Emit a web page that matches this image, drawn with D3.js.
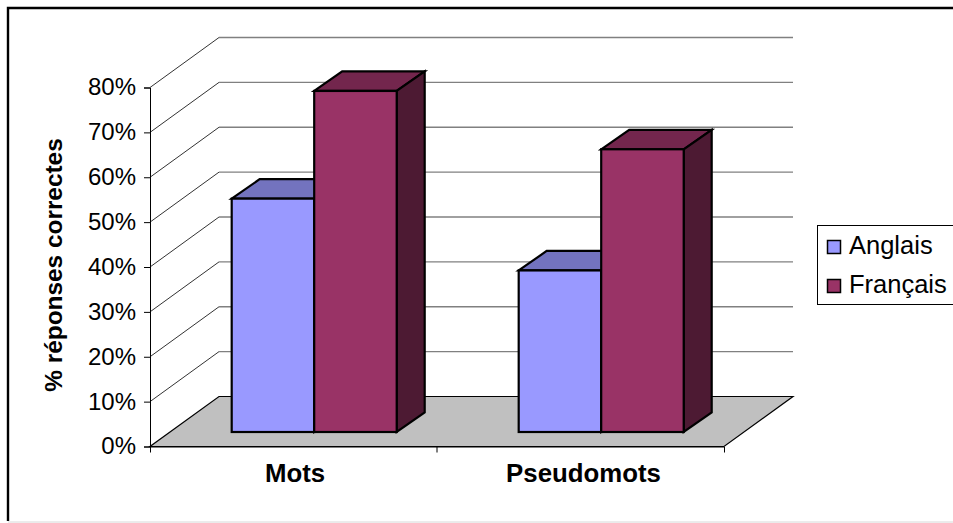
<!DOCTYPE html>
<html><head><meta charset="utf-8">
<style>html,body{margin:0;padding:0;background:#fff}svg{display:block}text{font-family:"Liberation Sans",Arial,sans-serif;fill:#000}</style>
<script src="https://cdn.jsdelivr.net/npm/d3@7/dist/d3.min.js"></script>
</head><body><div id="chart"></div>
<script>
const categories = ["Mots", "Pseudomots"];
const seriesNames = ["Anglais", "Français"];
const anglais = [0.52, 0.36];
const francais = [0.76, 0.63];
const yTicks = [0, 0.1, 0.2, 0.3, 0.4, 0.5, 0.6, 0.7, 0.8];
const yTitle = "% réponses correctes";
const frontColors = ["#9999ff", "#993366"];
const topColors = ["#7373bf", "#73264d"];
const sideColors = ["#4d4d80", "#4d1a33"];

const W = 953, H = 523;
const svg = d3.select("#chart").append("svg").attr("width", W).attr("height", H);

// frame
svg.append("path").attr("d", `M8,521V8H${W}`).attr("fill", "none").attr("stroke", "#000").attr("stroke-width", 2.4);
svg.append("line").attr("x1", 8).attr("x2", W).attr("y1", 522).attr("y2", 522).attr("stroke", "#d8d8d8");

const x0 = d3.scaleBand().domain(categories).range([150, 724]);
const y = d3.scaleLinear().domain([0, 0.8]).range([446.5, 87.5]);
const depth = {dx: 69, dy: -50};
const barOffset = {dx: 20.7, dy: -14.5};
const barDepth = {dx: 28, dy: -19.5};
const barInner = d3.scaleBand().domain(seriesNames).paddingInner(0).paddingOuter(0);
const barW = 165;

// floor
const base = y(0);
svg.append("path")
  .attr("d", `M${x0.range()[0]},${base}h${x0.range()[1]-x0.range()[0]}l${depth.dx},${depth.dy}h${x0.range()[0]-x0.range()[1]}Z`)
  .attr("fill", "#c0c0c0").attr("stroke", "#000").attr("stroke-width", 1.2);

// gridlines
yTicks.forEach(t => {
  const yy = y(t);
  if (t > 0) {
    const g = svg.append("g");
    g.append("line").attr("x1", 150).attr("y1", yy).attr("x2", 150 + depth.dx).attr("y2", yy + depth.dy).attr("stroke", "#333").attr("stroke-width", 1);
    g.append("line").attr("x1", 150 + depth.dx).attr("y1", yy + depth.dy).attr("x2", 724 + depth.dx).attr("y2", yy + depth.dy).attr("stroke", "#808080").attr("stroke-width", 1.3);
  }
});

// axes
const yAxis = d3.axisLeft(y).tickValues(yTicks).tickFormat(d3.format(".0%")).tickSize(6).tickPadding(8);
const gy = svg.append("g").attr("transform", "translate(150,0)").call(yAxis);
gy.selectAll("text").attr("font-size", 24).attr("dy", "0.31em");
gy.selectAll("line,path").attr("stroke", "#000");

const xAxis = d3.axisBottom(x0).tickValues([]).tickSizeOuter(6);
const gx = svg.append("g").attr("transform", `translate(0,${base})`).call(xAxis);
gx.selectAll("path").attr("stroke", "#000");
svg.append("line").attr("x1", 437).attr("x2", 437).attr("y1", base).attr("y2", base + 6).attr("stroke", "#000");
svg.selectAll("text.cat").data(categories).join("text").attr("class", "cat")
  .attr("x", (d) => x0(d) + x0.bandwidth()/2 + (d === "Mots" ? 1.5 : 3))
  .attr("y", 482).attr("text-anchor", "middle").attr("font-weight", "bold").attr("font-size", 25.8).text(d => d);

// bars
const values = [anglais, francais];
categories.forEach((c, ci) => {
  const cx = x0(c) + x0.bandwidth()/2 + barOffset.dx;
  barInner.range([cx - barW/2, cx + barW/2]);
  const by = base + barOffset.dy;
  seriesNames.forEach((s, si) => {
    const v = values[si][ci];
    const bx = barInner(s), bw = barInner.bandwidth();
    const ty = y(v) + barOffset.dy;
    const g = svg.append("g").attr("stroke", "#000").attr("stroke-width", 2.2).attr("stroke-linejoin", "miter");
    g.append("path").attr("d", `M${bx},${ty}l${barDepth.dx},${barDepth.dy}h${bw}l${-barDepth.dx},${-barDepth.dy}Z`).attr("fill", topColors[si]);
    g.append("path").attr("d", `M${bx+bw},${ty}l${barDepth.dx},${barDepth.dy}V${by+barDepth.dy}l${-barDepth.dx},${-barDepth.dy}Z`).attr("fill", sideColors[si]);
    g.append("rect").attr("x", bx).attr("y", ty).attr("width", bw).attr("height", by - ty).attr("fill", frontColors[si]);
  });
});

// y title
svg.append("text").attr("transform", "translate(62,265) rotate(-90)").attr("text-anchor", "middle")
  .attr("font-weight", "bold").attr("font-size", 24.4).text(yTitle);

// legend
svg.append("rect").attr("x", 817.5).attr("y", 225.5).attr("width", 136).attr("height", 79).attr("fill", "#fff").attr("stroke", "#000");
seriesNames.forEach((s, i) => {
  const ly = 240 + i * 39;
  svg.append("rect").attr("x", 827.5).attr("y", ly + .5).attr("width", 13).attr("height", 13).attr("fill", frontColors[i]).attr("stroke", "#000").attr("stroke-width", 1.5);
  svg.append("text").attr("x", 849).attr("y", ly + 13.5).attr("font-size", 25.5).text(s);
});
</script></body></html>
